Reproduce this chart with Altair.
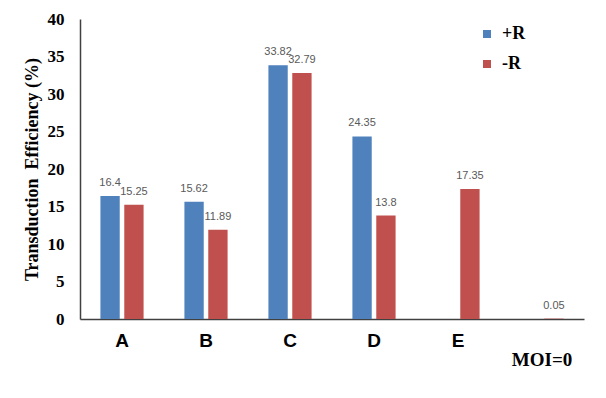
import altair as alt
import pandas as pd

categories = ["A", "B", "C", "D", "E", "MOI=0"]
series = ["+R", "-R"]
plus_r = [16.4, 15.62, 33.82, 24.35, None, None]
minus_r = [15.25, 11.89, 32.79, 13.8, 17.35, 0.05]
y_ticks = [0, 5, 10, 15, 20, 25, 30, 35, 40]
colors = ["#4F81BD", "#C0504D"]

rows = []
for c, p, m in zip(categories, plus_r, minus_r):
    if p is not None:
        rows.append({"cat": c, "series": "+R", "value": p, "label": str(p)})
    if m is not None:
        rows.append({"cat": c, "series": "-R", "value": m, "label": str(m)})
df = pd.DataFrame(rows)

x_enc = alt.X(
    "cat:N",
    sort=categories,
    scale=alt.Scale(paddingInner=0.486, paddingOuter=0.243),
    axis=alt.Axis(
        title=None,
        labelAngle=0,
        ticks=False,
        domainColor="#404040",
        domainWidth=1.5,
        labelColor="black",
        labelFont={"condition": {"test": "datum.value === 'MOI=0'", "value": "Liberation Serif"},
                   "value": "Liberation Sans"},
        labelFontSize=19,
        labelFontWeight="bold",
        labelPadding=12,
        labelLineHeight=19,
        labelExpr="datum.value === 'MOI=0' ? ['', 'MOI=0'] : datum.label",
    ),
)
xoff = alt.XOffset("series:N", sort=series, scale=alt.Scale(paddingInner=0.19))
y_enc = alt.Y(
    "value:Q",
    scale=alt.Scale(domain=[0, 40], nice=False),
    axis=alt.Axis(
        values=y_ticks,
        tickCount=9,
        labelOverlap=False,
        title="Transduction\u00a0 Efficiency (%)",
        titleFont="Liberation Serif",
        titleFontSize=18,
        titleFontWeight="bold",
        titleColor="black",
        titlePadding=6,
        labelFont="Liberation Serif",
        labelFontSize=17,
        labelFontWeight="bold",
        labelColor="black",
        labelPadding=16,
        ticks=False,
        grid=False,
        domainColor="#404040",
        domainWidth=1.5,
    ),
)

base = alt.Chart(df).encode(x=x_enc, xOffset=xoff, y=y_enc)

bars = base.mark_bar().encode(
    color=alt.Color(
        "series:N",
        sort=series,
        scale=alt.Scale(domain=series, range=colors),
        legend=alt.Legend(
            orient="none",
            legendX=398,
            legendY=6,
            title=None,
            symbolType="square",
            symbolSize=64,
            symbolStrokeWidth=0,
            labelFont="Liberation Serif",
            labelFontWeight="bold",
            labelFontSize=18,
            labelColor="black",
            labelOffset=6,
            rowPadding=12,
            padding=0,
        ),
    ),
)

labels = base.mark_text(
    dy=-13, baseline="middle", font="Liberation Sans", fontSize=11, color="#595959"
).encode(text="label:N")

chart = (
    alt.layer(bars, labels)
    .properties(
        width=504,
        height=300,
        padding={"left": 72, "top": 11, "right": 10, "bottom": 60},
        autosize=alt.AutoSizeParams(type="none"),
        background="white",
    )
    .configure_view(stroke=None)
)

chart.save("out.html", embed_options={"renderer": "svg", "actions": False})
